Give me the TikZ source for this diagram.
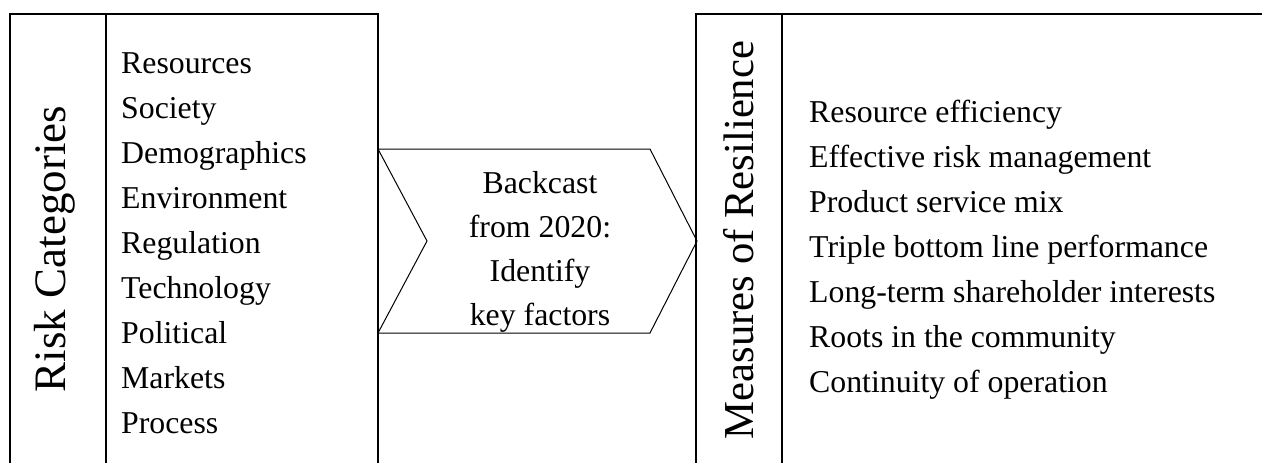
\documentclass[tikz,border=0pt]{standalone}
\usepackage{fontspec}
\setmainfont{Liberation Serif}
\begin{document}
\begin{tikzpicture}[x=1pt,y=-1pt,
  frame/.style={line width=2pt,black},
  chev/.style={line width=1pt,black},
  item/.style={anchor=base west,inner sep=0pt,font=\fontsize{31.8}{38}\selectfont},
  ctext/.style={anchor=base,inner sep=0pt,font=\fontsize{31.8}{38}\selectfont},
  vtitle/.style={anchor=base,inner sep=0pt,rotate=90}]
\useasboundingbox[fill=white] (0,0) rectangle (1262,463);
% left box
\coordinate (LTL) at (9.5,14);
\coordinate (LBL) at (9.5,470);
\coordinate (LDT) at (106,14);
\coordinate (LDB) at (106,470);
\coordinate (LTR) at (378,14);
\coordinate (LBR) at (378,470);
\draw[frame] (LBL) -- (LTL) -- (LTR) -- (LBR);
\draw[frame] (LDT) -- (LDB);
% right box
\coordinate (RTL) at (696,14);
\coordinate (RBL) at (696,470);
\coordinate (RDT) at (782,14);
\coordinate (RDB) at (782,470);
\coordinate (RTR) at (1270,14);
\draw[frame] (RBL) -- (RTL) -- (RTR);
\draw[frame] (RDT) -- (RDB);
% chevron
\coordinate (c1) at (378,149);
\coordinate (c2) at (650,149);
\coordinate (c3) at (697,241);
\coordinate (c4) at (650,333);
\coordinate (c5) at (378,333);
\coordinate (c6) at (427,241);
\draw[chev,line join=miter] (c1) -- (c2) -- (c3) -- (c4) -- (c5) -- (c6) -- cycle;
% titles
\node[vtitle,font=\fontsize{45}{50}\selectfont] (rc) at (65,249) {Risk Categories};
\node[vtitle,font=\fontsize{42.7}{50}\selectfont] (mr) at (753,240) {Measures of Resilience};
% left list
\node[item] (l1) at (121,73) {Resources};
\node[item] (l2) at (121,118) {Society};
\node[item] (l3) at (121,163) {Demographics};
\node[item] (l4) at (121,208) {Environment};
\node[item] (l5) at (121,253) {Regulation};
\node[item] (l6) at (121,298) {Technology};
\node[item] (l7) at (121,343) {Political};
\node[item] (l8) at (121,388) {Markets};
\node[item] (l9) at (121,433) {Process};
% chevron text
\node[ctext] (b1) at (540,193) {Backcast};
\node[ctext] (b2) at (540,237) {from 2020:};
\node[ctext] (b3) at (540,281) {Identify};
\node[ctext] (b4) at (540,325) {key factors};
% right list
\node[item] (m1) at (809,122) {Resource efficiency};
\node[item] (m2) at (809,167) {Effective risk management};
\node[item] (m3) at (809,212) {Product service mix};
\node[item] (m4) at (809,257) {Triple bottom line performance};
\node[item] (m5) at (809,302) {Long-term shareholder interests};
\node[item] (m6) at (809,347) {Roots in the community};
\node[item] (m7) at (809,392) {Continuity of operation};
\end{tikzpicture}
\end{document}
